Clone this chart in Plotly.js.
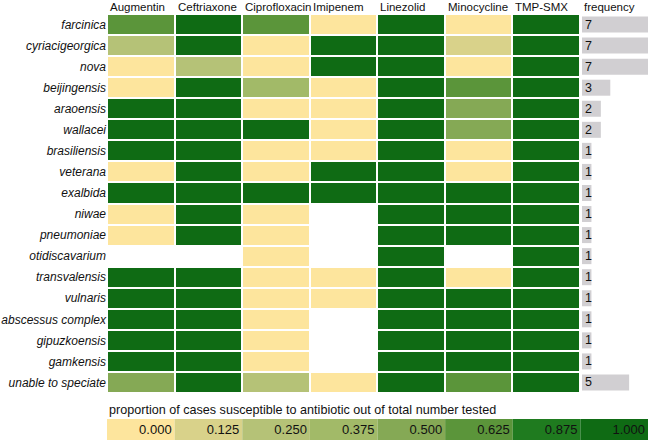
<!DOCTYPE html>
<html>
<head>
<meta charset="utf-8">
<script src="https://cdn.plot.ly/plotly-3.0.1.min.js"></script>
<style>html,body{margin:0;padding:0;background:#fff;}#chart{width:650px;height:441px;}</style>
</head>
<body>
<div id="chart"></div>
<script>
// ---- data ----
const species = ['farcinica','cyriacigeorgica','nova','beijingensis','araoensis','wallacei','brasiliensis','veterana','exalbida','niwae','pneumoniae','otidiscavarium','transvalensis','vulnaris','abscessus complex','gipuzkoensis','gamkensis','unable to speciate'];
const antibiotics = ['Augmentin','Ceftriaxone','Ciprofloxacin','Imipenem','Linezolid','Minocycline','TMP-SMX'];
const augmentin     = [0.71, 0.29, 0, 0, 1, 1, 1, 0, 1, 0, 0, null, 1, 1, 1, 1, 1, 0.5];
const ceftriaxone   = [1, 1, 0.29, 1, 1, 1, 1, 1, 1, 1, 1, null, 1, 1, 1, 1, 1, 1];
const ciprofloxacin = [0.71, 0, 0, 0.33, 0, 1, 0, 0, 1, 0, 0, 0, 0, 0, 0, 0, 0, 0.2];
const imipenem      = [0, 1, 1, 0, 0, 0, 0, 1, 1, null, null, null, 0, 0, null, null, null, 0];
const linezolid     = [1, 1, 1, 1, 1, 1, 1, 1, 1, 1, 1, 1, 1, 1, 1, 1, 1, 1];
const minocycline   = [0, 0.14, 0, 0.67, 0.5, 0.5, 0, 0, 1, 1, 1, null, 0, 1, 1, 1, 1, 0.6];
const tmpSmx        = [1, 1, 1, 1, 1, 1, 1, 1, 1, 1, 1, 1, 1, 1, 1, 1, 1, 1];
const frequency     = [7, 7, 7, 3, 2, 2, 1, 1, 1, 1, 1, 1, 1, 1, 1, 1, 1, 5];
const legendLabels  = ['0.000','0.125','0.250','0.375','0.500','0.625','0.875','1.000'];
const legendTitle   = 'proportion of cases susceptible to antibiotic out of total number tested';

// ---- styling ----
const binColors = ['#fde59d','#d9d28a','#b5c277','#a2ba68','#85a955','#5b953a','#1f7b1f','#0f6b14'];
const binEdges = [0, 0.07, 0.18, 0.31, 0.45, 0.55, 0.8, 0.95, 1];
const colorscale = [];
binColors.forEach((c, i) => { colorscale.push([binEdges[i], c]); colorscale.push([binEdges[i+1], c]); });

const columns = [augmentin, ceftriaxone, ciprofloxacin, imipenem, linezolid, minocycline, tmpSmx];
const z = species.map((_, r) => columns.map(col => col[r]));
const xIdx = antibiotics.map((_, i) => i);

const font = 'Liberation Sans, Arial, sans-serif';

const heat = {
  type: 'heatmap', x: xIdx, y: species, z: z,
  colorscale: colorscale, zmin: 0, zmax: 1, showscale: false,
  xgap: 2, ygap: 2, hoverinfo: 'skip', xaxis: 'x', yaxis: 'y'
};

const freqBars = {
  type: 'bar', orientation: 'h', y: species, x: frequency,
  xaxis: 'x2', yaxis: 'y', width: 0.76,
  marker: {color: '#d1cfd2', line: {width: 0}},
  text: frequency.map(String), textposition: 'inside', insidetextanchor: 'start', textangle: 0,
  constraintext: 'none', textfont: {color: '#111', size: 12.5, family: font},
  hoverinfo: 'skip', cliponaxis: false
};

const legendBars = {
  type: 'bar', orientation: 'h', y: legendLabels.map(() => 0), x: legendLabels.map(() => 1),
  base: legendLabels.map((_, i) => i), xaxis: 'x3', yaxis: 'y3', width: 1,
  marker: {color: binColors, line: {width: 0}},
  text: legendLabels, textposition: 'inside', insidetextanchor: 'end', textangle: 0,
  constraintext: 'none', textfont: {color: '#111', size: 13, family: font},
  hoverinfo: 'skip'
};

const annotations = antibiotics.map((a, i) => ({
  text: a, xref: 'x', yref: 'paper', x: i - 0.5, y: 1, xanchor: 'left', yanchor: 'bottom',
  xshift: 1, yshift: -1, showarrow: false, font: {family: font, size: 11.5, color: '#111'}
}));
annotations.push({
  text: 'frequency', xref: 'x2', yref: 'paper', x: 0, y: 1, xanchor: 'left', yanchor: 'bottom',
  xshift: 0, yshift: -1, showarrow: false, font: {family: font, size: 11.5, color: '#111'}
});
annotations.push({
  text: legendTitle, xref: 'paper', yref: 'paper', x: 0, y: 0.0515, xanchor: 'left', yanchor: 'bottom',
  xshift: 0, yshift: 0, showarrow: false, font: {family: font, size: 12.6, color: '#111'}
});

const layout = {
  width: 650, height: 441,
  margin: {l: 107, r: 2, t: 14, b: 0, pad: 0},
  paper_bgcolor: '#fff', plot_bgcolor: 'rgba(0,0,0,0)',
  showlegend: false, barmode: 'overlay',
  font: {family: font, size: 12, color: '#111'},
  xaxis: {domain: [0, 0.8743], range: [-0.5, 6.5], visible: false, fixedrange: true, anchor: 'y'},
  yaxis: {domain: [0.1124, 1], autorange: 'reversed', showgrid: false, zeroline: false, ticks: '',
          showline: false, tickfont: {family: font, size: 12, color: '#111', style: 'italic'}, fixedrange: true},
  xaxis2: {domain: [0.8780, 1], range: [0, 7], visible: false, anchor: 'y', fixedrange: true},
  xaxis3: {domain: [0, 1], range: [0, 8], visible: false, anchor: 'y3', fixedrange: true},
  yaxis3: {domain: [0.0023, 0.0515], range: [-0.5, 0.5], visible: false, anchor: 'x3', fixedrange: true},
  annotations: annotations
};

Plotly.newPlot('chart', [heat, freqBars, legendBars], layout, {displayModeBar: false, staticPlot: true});
</script>
</body>
</html>
